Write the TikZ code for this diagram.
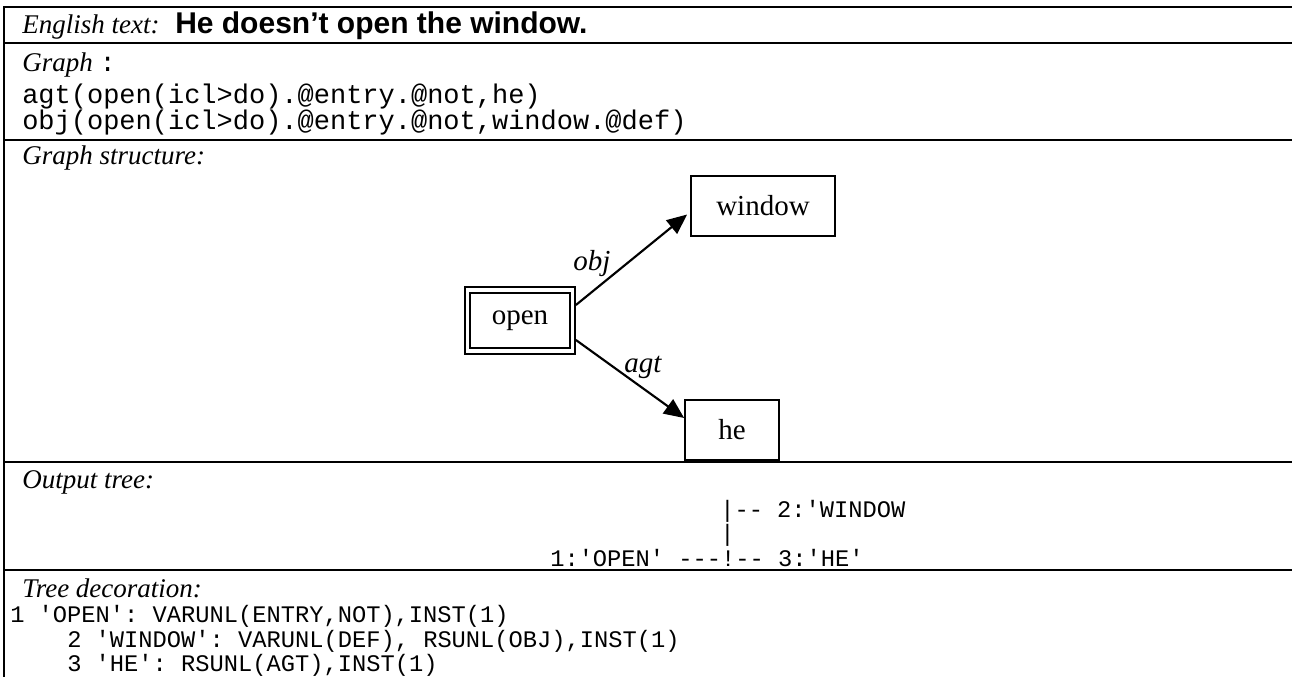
\documentclass[tikz,border=0pt]{standalone}
\usepackage{fontspec}
\setmainfont{Liberation Serif}
\setsansfont{Liberation Sans}
\setmonofont{Liberation Mono}
\usetikzlibrary{arrows.meta}
\tikzset{
  rule/.style={line width=1.9pt},
  lbl/.style={anchor=base west, inner sep=0pt, font=\fontsize{20.25}{24}\selectfont\itshape},
  code/.style={anchor=base west, inner sep=0pt, font=\fontsize{20.25}{24}\selectfont\ttfamily},
  deco/.style={anchor=base west, inner sep=0pt, font=\fontsize{17.8}{21}\selectfont\ttfamily},
  gbox/.style={draw, line width=1.3pt, inner sep=0pt, font=\fontsize{21.75}{26}\selectfont},
  elbl/.style={inner sep=0pt, font=\fontsize{21.75}{26}\selectfont\itshape},
  edgearrow/.style={line width=1.6pt, -{Triangle[length=15pt,width=13pt]}},
}
\begin{document}
\begin{tikzpicture}[x=0.75pt, y=-0.75pt]
\useasboundingbox (0,0) rectangle (1292,677);
% frame and separators
\draw[rule] (4,677) -- (4,7) -- (1292,7);
\draw[rule] (4,43) -- (1292,43);
\draw[rule] (4,140) -- (1292,140);
\draw[rule] (4,462) -- (1292,462);
\draw[rule] (4,570) -- (1292,570);
% row 1
\node[lbl] (eng) at (22,34) {English text:};
\node[anchor=base west, inner sep=0pt, font=\fontsize{22.5}{26}\selectfont\sffamily\bfseries] (sent) at (175,34) {He doesn’t open the window.};
% row 2
\node[lbl] (graph) at (22,72) {Graph {\upshape\ttfamily :}};
\node[code] (g1) at (22,104) {agt(open(icl>do).@entry.@not,he)};
\node[code] (g2) at (22,130) {obj(open(icl>do).@entry.@not,window.@def)};
% row 3
\node[lbl] (gs) at (22,165) {Graph structure:};
\node[gbox, minimum width=108pt, minimum height=45pt] (window) at (763,206) {window};
\node[gbox, minimum width=75pt, minimum height=41.25pt] (open) at (520,320.5) {open};
\node[gbox, minimum width=82.5pt, minimum height=50.25pt] (openo) at (520,320.5) {};
\node[gbox, minimum width=70.5pt, minimum height=45pt] (he) at (732,430) {he};
\draw[edgearrow, shorten >=3pt] ([yshift=11.6pt]openo.east) -- ([yshift=-4.5pt]window.west);
\draw[edgearrow] ([yshift=-14.6pt]openo.east) -- ([yshift=9pt]he.west);
\node[elbl] (lobj) at (592,264) {obj};
\node[elbl] (lagt) at (643,367) {agt};
% row 4
\node[lbl] (ot) at (22,488) {Output tree:};
\node[deco] (o1) at (720,517) {|-- 2:'WINDOW};
\node[deco] (o2) at (720,541) {|};
\node[deco] (o3) at (550,566) {1:'OPEN' ---!-- 3:'HE'};
% row 5
\node[lbl] (td) at (22,597) {Tree decoration:};
\node[deco] (d1) at (10,622) {1 'OPEN': VARUNL(ENTRY,NOT),INST(1)};
\node[deco] (d2) at (67,647) {2 'WINDOW': VARUNL(DEF), RSUNL(OBJ),INST(1)};
\node[deco] (d3) at (67,671) {3 'HE': RSUNL(AGT),INST(1)};
\end{tikzpicture}
\end{document}
